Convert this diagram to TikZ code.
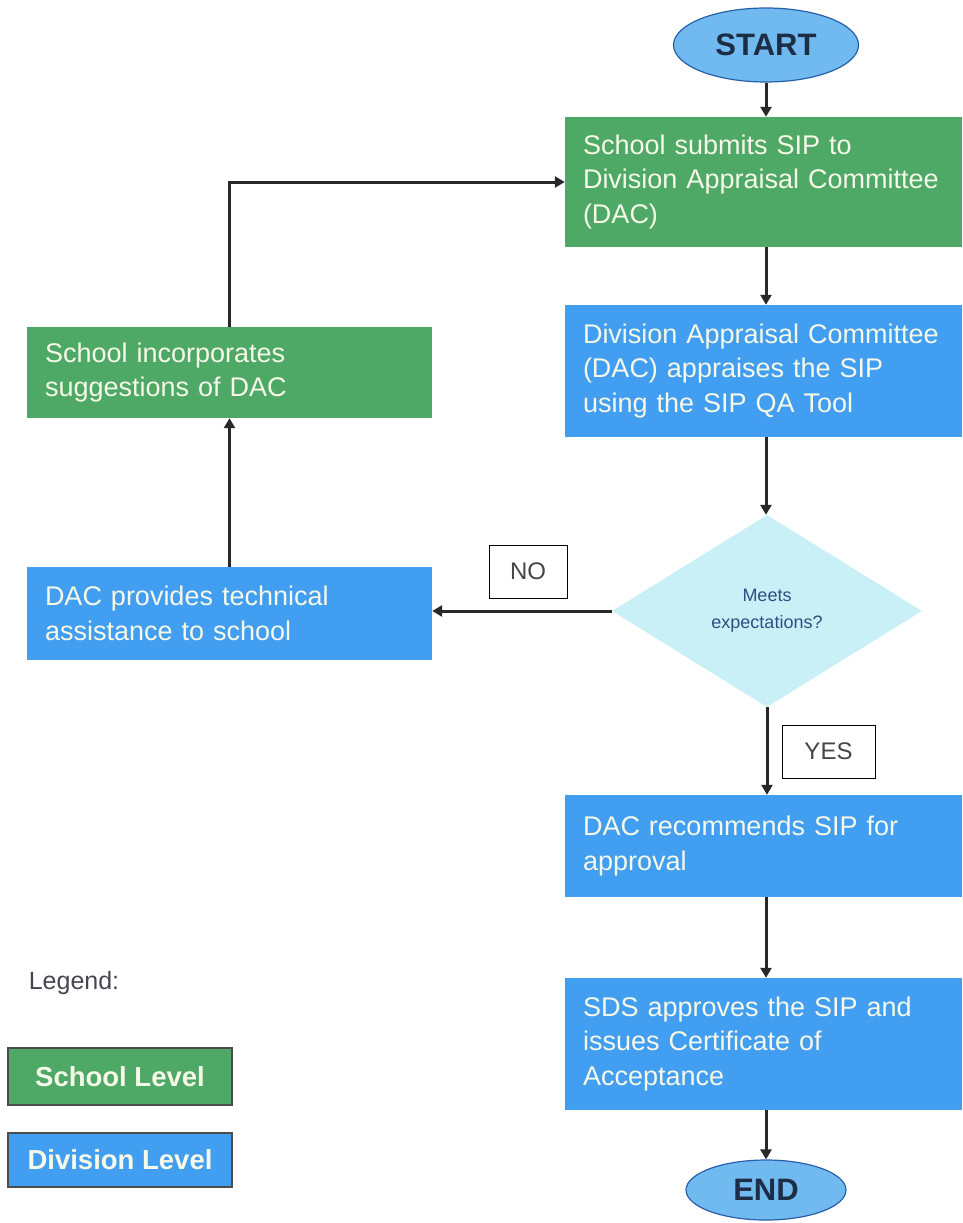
\documentclass[tikz,border=0pt]{standalone}
\usepackage{fontspec}
\setmainfont{Liberation Sans}
\usetikzlibrary{shapes.geometric,arrows.meta}
\definecolor{schoolgreen}{RGB}{78,168,102}
\definecolor{divblue}{RGB}{66,158,240}
\definecolor{ovalblue}{RGB}{112,186,240}
\definecolor{ovalline}{RGB}{40,95,170}
\definecolor{diafill}{RGB}{200,240,246}
\definecolor{diatext}{RGB}{45,80,130}
\definecolor{boxtext}{RGB}{246,248,232}
\definecolor{linecol}{RGB}{40,40,40}
\definecolor{labeltext}{RGB}{70,70,70}
\definecolor{legendtext}{RGB}{70,70,80}
\definecolor{termtext}{RGB}{30,45,70}
\tikzset{
  stepbox/.style={rectangle, inner xsep=18pt, inner ysep=0pt, align=left,
    text=boxtext, font=\fontsize{27}{34.5}\selectfont, anchor=center},
  rightbox/.style={stepbox, minimum width=397pt, text width=361pt},
  leftbox/.style={stepbox, minimum width=405pt, text width=369pt},
  terminal/.style={ellipse, draw=ovalline, line width=1.2pt, fill=ovalblue,
    text=termtext, font=\fontsize{31}{34}\selectfont\bfseries, inner sep=0pt},
  decision/.style={diamond, fill=diafill, inner sep=0pt, minimum width=310pt,
    minimum height=192pt, aspect=1.6, text=diatext, align=center,
    font=\fontsize{18}{27}\selectfont},
  tagbox/.style={rectangle, draw=black, line width=1pt, fill=white,
    text=labeltext, font=\fontsize{24}{26}\selectfont, inner sep=0pt},
  legbox/.style={rectangle, draw=black!70, line width=1.5pt, minimum width=224pt,
    text=boxtext, font=\fontsize{27.5}{30}\selectfont\bfseries, inner sep=0pt},
  flow/.style={draw=linecol, line width=3pt, -{Triangle[width=11pt,length=10pt]}}
}
\begin{document}
\begin{tikzpicture}[x=1pt,y=-1pt]
\useasboundingbox (0,0) rectangle (962,1223);
% terminals
\node[terminal, minimum width=185pt, minimum height=74pt] (start) at (766,45) {START};
\node[terminal, minimum width=160pt, minimum height=60pt] (end) at (766,1190) {END};
% right column
\node[rightbox, fill=schoolgreen, minimum height=130pt] (submit) at (763.5,182)
  {School submits SIP to\\Division Appraisal Committee\\(DAC)};
\node[rightbox, fill=divblue, minimum height=132pt] (appraise) at (763.5,371)
  {Division Appraisal Committee\\(DAC) appraises the SIP\\using the SIP QA Tool};
\node[decision] (meets) at (767,611) {Meets\\expectations?};
\node[rightbox, fill=divblue, minimum height=102pt] (recommend) at (763.5,846)
  {DAC recommends SIP for\\approval};
\node[rightbox, fill=divblue, minimum height=132pt] (approve) at (763.5,1044)
  {SDS approves the SIP and\\issues Certificate of\\Acceptance};
% left column
\node[leftbox, fill=schoolgreen, minimum height=91pt] (incorp) at (229.5,372.5)
  {School incorporates\\suggestions of DAC};
\node[leftbox, fill=divblue, minimum height=93pt] (assist) at (229.5,613.5)
  {DAC provides technical\\assistance to school};
% labels
\node[tagbox, minimum width=78pt, minimum height=53pt] (no) at (528,571.5) {NO};
\node[tagbox, minimum width=93pt, minimum height=53pt] (yes) at (828.5,751.5) {YES};
% legend
\node[text=legendtext, font=\fontsize{25}{28}\selectfont] (legend) at (74,983) {Legend:};
\node[legbox, fill=schoolgreen, minimum height=57pt] (legschool) at (120,1076.5) {School Level};
\node[legbox, fill=divblue, minimum height=54pt] (legdiv) at (120,1160) {Division Level};
% connectors
\draw[flow] (start.south) -- (start.south |- submit.north);
\draw[flow] (start.south |- submit.south) -- (start.south |- appraise.north);
\draw[flow] (start.south |- appraise.south) -- (start.south |- meets.north);
\draw[flow] (meets.south) -- (meets.south |- recommend.north);
\draw[flow] (start.south |- recommend.south) -- (start.south |- approve.north);
\draw[flow] (start.south |- approve.south) -- (end.north);
\draw[flow] (meets.west) -- (meets.west -| assist.east);
\draw[flow] (assist.north) -- (incorp.south);
\draw[flow] (incorp.north) |- (submit.west);
\end{tikzpicture}
\end{document}
